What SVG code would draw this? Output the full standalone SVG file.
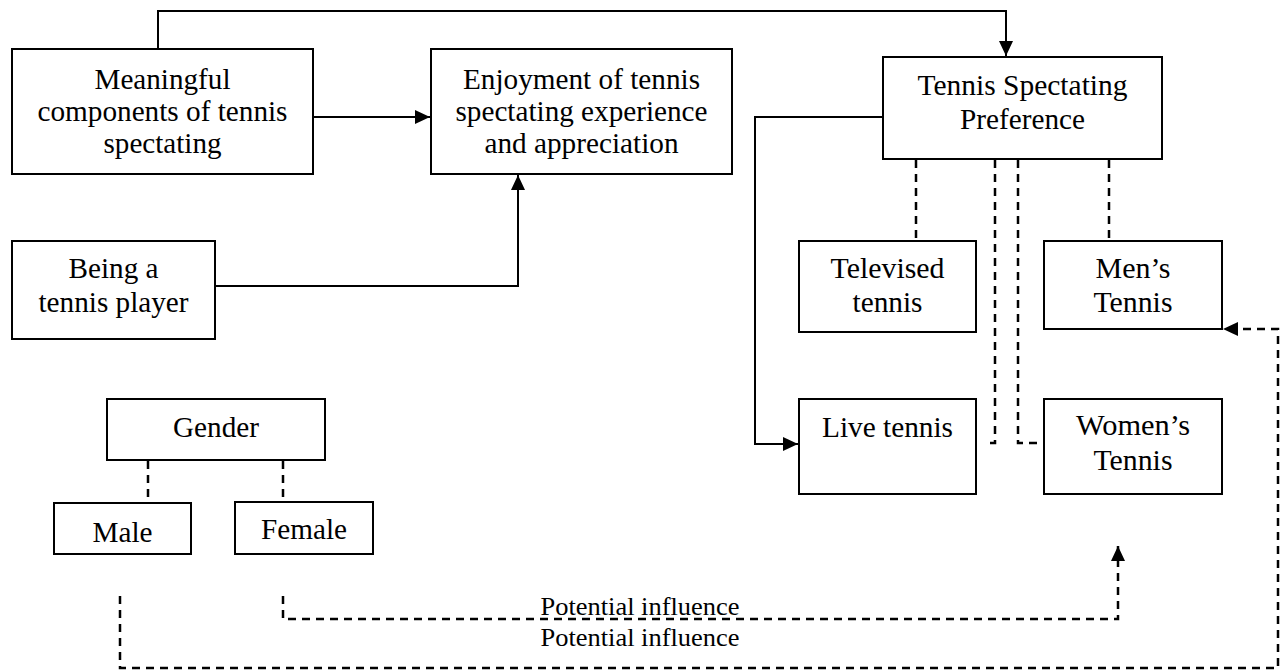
<svg xmlns="http://www.w3.org/2000/svg" width="1280" height="671" viewBox="0 0 1280 671">
<defs>
<style>
.box{fill:#fff;stroke:#000;stroke-width:2}
.t{font-family:"Liberation Serif","Times New Roman",serif;font-size:30px;text-anchor:middle;fill:#000}
.lbl{font-family:"Liberation Serif","Times New Roman",serif;font-size:26px;text-anchor:middle;fill:#000}
.s{fill:none;stroke:#000;stroke-width:2}
.d{fill:none;stroke:#000;stroke-width:2.5;stroke-dasharray:8,6}
</style>
<marker id="ah" markerUnits="userSpaceOnUse" markerWidth="16" markerHeight="14" refX="15" refY="7" orient="auto">
<path d="M0,0 L15,7 L0,14 z" fill="#000"/>
</marker>
</defs>
<rect width="1280" height="671" fill="#fff"/>
<g id="connectors">
<path class="s" d="M158,49 V11 H1006 V56" marker-end="url(#ah)"/>
<path class="s" d="M313,117 H430" marker-end="url(#ah)"/>
<path class="s" d="M215,286 H518 V175" marker-end="url(#ah)"/>
<path class="s" d="M883,117 H755 V444 H798" marker-end="url(#ah)"/>
<path class="d" d="M916,160 V241"/>
<path class="d" d="M1109,160 V241"/>
<path class="d" d="M995,160 V443 H984"/>
<path class="d" d="M1018,160 V443 H1044"/>
<path class="d" d="M148,461 V503"/>
<path class="d" d="M283,461 V502"/>
<path class="d" d="M283,596 V619 H1118 V546" marker-end="url(#ah)"/>
<path class="d" d="M120,596 V668 H1278 V329 H1223" marker-end="url(#ah)"/>
</g>
<g id="meaningful">
<rect class="box" x="12" y="49" width="301" height="125"/>
<text class="t" x="162.5" y="89" textLength="136" lengthAdjust="spacingAndGlyphs">Meaningful</text>
<text class="t" x="162.5" y="121" textLength="250" lengthAdjust="spacingAndGlyphs">components of tennis</text>
<text class="t" x="162.5" y="153" textLength="118" lengthAdjust="spacingAndGlyphs">spectating</text>
</g>
<g id="enjoyment">
<rect class="box" x="431" y="49" width="301" height="125"/>
<text class="t" x="581.5" y="89" textLength="237" lengthAdjust="spacingAndGlyphs">Enjoyment of tennis</text>
<text class="t" x="581.5" y="121" textLength="252" lengthAdjust="spacingAndGlyphs">spectating experience</text>
<text class="t" x="581.5" y="153" textLength="194" lengthAdjust="spacingAndGlyphs">and appreciation</text>
</g>
<g id="preference">
<rect class="box" x="883" y="57" width="279" height="102"/>
<text class="t" x="1022.5" y="95" textLength="210" lengthAdjust="spacingAndGlyphs">Tennis Spectating</text>
<text class="t" x="1022.5" y="129" textLength="125" lengthAdjust="spacingAndGlyphs">Preference</text>
</g>
<g id="player">
<rect class="box" x="12" y="241" width="203" height="98"/>
<text class="t" x="113.5" y="278" textLength="90" lengthAdjust="spacingAndGlyphs">Being a</text>
<text class="t" x="113.5" y="312" textLength="150" lengthAdjust="spacingAndGlyphs">tennis player</text>
</g>
<g id="televised">
<rect class="box" x="799" y="241" width="177" height="91"/>
<text class="t" x="887.5" y="278" textLength="114" lengthAdjust="spacingAndGlyphs">Televised</text>
<text class="t" x="887.5" y="312" textLength="70" lengthAdjust="spacingAndGlyphs">tennis</text>
</g>
<g id="mens">
<rect class="box" x="1044" y="241" width="178" height="88"/>
<text class="t" x="1133" y="278" textLength="75" lengthAdjust="spacingAndGlyphs">Men’s</text>
<text class="t" x="1133" y="312" textLength="79" lengthAdjust="spacingAndGlyphs">Tennis</text>
</g>
<g id="live">
<rect class="box" x="799" y="399" width="177" height="95"/>
<text class="t" x="887.5" y="437" textLength="131" lengthAdjust="spacingAndGlyphs">Live tennis</text>
</g>
<g id="womens">
<rect class="box" x="1044" y="399" width="178" height="95"/>
<text class="t" x="1133" y="435" textLength="114" lengthAdjust="spacingAndGlyphs">Women’s</text>
<text class="t" x="1133" y="470" textLength="79" lengthAdjust="spacingAndGlyphs">Tennis</text>
</g>
<g id="gender">
<rect class="box" x="107" y="399" width="218" height="61"/>
<text class="t" x="216" y="437" textLength="86" lengthAdjust="spacingAndGlyphs">Gender</text>
</g>
<g id="male">
<rect class="box" x="54" y="503" width="137" height="51"/>
<text class="t" x="122.5" y="542" textLength="60" lengthAdjust="spacingAndGlyphs">Male</text>
</g>
<g id="female">
<rect class="box" x="235" y="502" width="138" height="52"/>
<text class="t" x="304" y="539" textLength="86" lengthAdjust="spacingAndGlyphs">Female</text>
</g>
<g id="labels">
<text class="lbl" x="640" y="615" textLength="199" lengthAdjust="spacingAndGlyphs">Potential influence</text>
<text class="lbl" x="640" y="646" textLength="199" lengthAdjust="spacingAndGlyphs">Potential influence</text>
</g>
</svg>
